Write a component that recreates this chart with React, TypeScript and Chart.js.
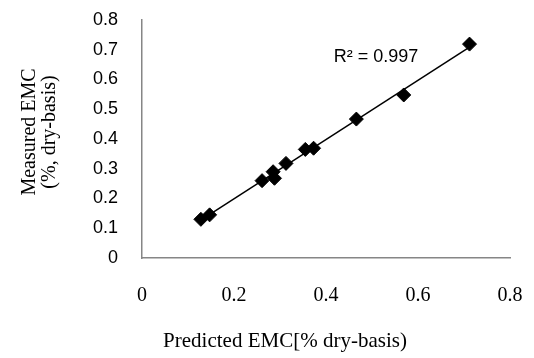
import React, { useEffect, useRef } from "react";
import { Chart, registerables } from "chart.js";

Chart.register(...registerables);

const predicted = [0.128, 0.147, 0.261, 0.285, 0.288, 0.313, 0.355, 0.373, 0.466, 0.569, 0.712];
const measured = [0.130, 0.145, 0.260, 0.290, 0.268, 0.318, 0.365, 0.369, 0.467, 0.548, 0.719];
const xTicks = [0, 0.2, 0.4, 0.6, 0.8];
const yTicks = [0, 0.1, 0.2, 0.3, 0.4, 0.5, 0.6, 0.7, 0.8];
const xTitle = "Predicted EMC[% dry-basis)";
const yTitle = ["Measured EMC", "(%, dry-basis)"];
const r2Label = "R\u00B2 = 0.997";
const r2Anchor = { x: 0.417, y: 0.676 };

function fit(xs: number[], ys: number[]) {
  const n = xs.length;
  const mx = xs.reduce((a, b) => a + b, 0) / n;
  const my = ys.reduce((a, b) => a + b, 0) / n;
  let sxy = 0, sxx = 0;
  for (let i = 0; i < n; i++) {
    sxy += (xs[i] - mx) * (ys[i] - my);
    sxx += (xs[i] - mx) * (xs[i] - mx);
  }
  const m = sxy / sxx;
  return { m, b: my - m * mx };
}

export default function App() {
  const ref = useRef<HTMLCanvasElement | null>(null);
  useEffect(() => {
    if (!ref.current) return;
    const { m, b } = fit(predicted, measured);
    const xmin = Math.min(...predicted);
    const xmax = Math.max(...predicted);
    const trend = [
      { x: xmin, y: m * xmin + b },
      { x: xmax, y: m * xmax + b },
    ];
    const points = predicted.map((x, i) => ({ x, y: measured[i] }));

    const overlay = {
      id: "overlay",
      afterDraw(chart: any) {
        const ctx = chart.ctx;
        const xs = chart.scales.x;
        const ys = chart.scales.y;
        ctx.save();
        ctx.fillStyle = "#000";
        ctx.font = '18px "Liberation Sans", Arial, sans-serif';
        ctx.textAlign = "left";
        ctx.textBaseline = "middle";
        ctx.fillText(r2Label, xs.getPixelForValue(r2Anchor.x), ys.getPixelForValue(r2Anchor.y));
        // x title
        ctx.font = '21px "Liberation Serif", "Times New Roman", serif';
        ctx.textAlign = "center";
        ctx.fillText(xTitle, 285, 341);
        // y title
        ctx.font = '20px "Liberation Serif", "Times New Roman", serif';
        ctx.translate(30, 132);
        ctx.rotate(-Math.PI / 2);
        ctx.fillText(yTitle[0], 0, 0);
        ctx.fillText(yTitle[1], 0, 20);
        ctx.restore();
      },
    };

    const chart = new Chart(ref.current, {
      type: "scatter",
      data: {
        datasets: [
          {
            type: "line",
            data: trend,
            borderColor: "#000",
            borderWidth: 1.5,
            pointRadius: 0,
            fill: false,
          } as any,
          {
            data: points,
            pointStyle: "rectRot",
            pointRadius: 7,
            backgroundColor: "#000",
            borderColor: "#000",
            borderWidth: 1,
          },
        ],
      },
      options: {
        animation: false,
        responsive: false,
        layout: { padding: { top: 20, right: 24, left: 0, bottom: 0 } },
        plugins: { legend: { display: false }, tooltip: { enabled: false } },
        scales: {
          x: {
            type: "linear",
            min: 0,
            max: 0.8,
            afterBuildTicks: (s: any) => { s.ticks = xTicks.map((v) => ({ value: v })); },
            afterFit: (s: any) => { s.height = 100; s.paddingLeft = 0; s.paddingRight = 0; },
            grid: { display: false, drawTicks: false },
            border: { display: true, color: "#868686", width: 1.5 },
            ticks: {
              padding: 26,
              color: "#000",
              font: { family: '"Liberation Serif", "Times New Roman", serif', size: 20 },
              callback: (v: any) => String(v),
            },
          },
          y: {
            type: "linear",
            min: 0,
            max: 0.8,
            afterBuildTicks: (s: any) => { s.ticks = yTicks.map((v) => ({ value: v })); },
            afterFit: (s: any) => { s.width = 142; s.paddingTop = 0; s.paddingBottom = 0; },
            grid: { display: false, drawTicks: false },
            border: { display: true, color: "#868686", width: 1.5 },
            ticks: {
              padding: 24,
              color: "#000",
              font: { family: '"Liberation Sans", Arial, sans-serif', size: 18 },
              callback: (v: any) => String(Math.round(v * 10) / 10),
            },
          },
        },
      },
      plugins: [overlay],
    });
    return () => chart.destroy();
  }, []);
  return (
    <div style={{ position: "fixed", left: 0, top: 0, width: 534, height: 358, background: "#fff" }}>
      <canvas ref={ref} width={534} height={358} />
    </div>
  );
}
